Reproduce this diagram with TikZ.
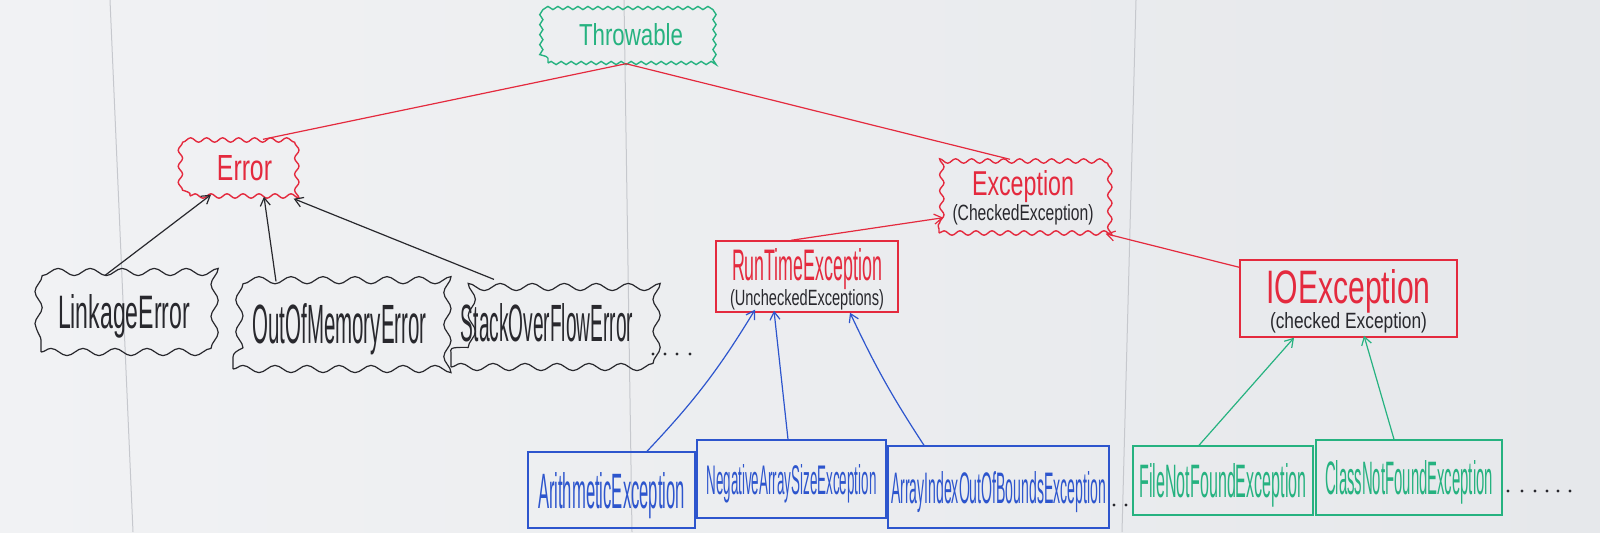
\documentclass[tikz,border=0pt]{standalone}
\usepackage{fontspec}
\setmainfont{Liberation Sans}
\usetikzlibrary{decorations.pathmorphing,arrows.meta,calc}
\definecolor{wbgL}{RGB}{241,242,244}
\definecolor{wbgR}{RGB}{230,232,235}
\definecolor{mgreen}{RGB}{38,178,128}
\definecolor{mred}{RGB}{228,42,62}
\definecolor{mblue}{RGB}{45,85,205}
\definecolor{mblack}{RGB}{40,40,45}
\definecolor{seam}{RGB}{198,200,205}
\newcommand{\hw}[3]{\raisebox{0pt}[#2pt][0pt]{\resizebox{#1pt}{#2pt}{#3}}}
\begin{document}
\begin{tikzpicture}[x=0.5pt,y=-0.5pt,
 box/.style={draw, line width=0.7pt, inner sep=0pt, align=center, font=\fontsize{5}{5}\selectfont},
 wavyA/.style={decorate, decoration={snake, segment length=5pt, amplitude=0.8pt}},
 wavyB/.style={decorate, decoration={snake, segment length=8pt, amplitude=1.1pt}},
 wavyC/.style={decorate, decoration={snake, segment length=16pt, amplitude=1.8pt}, line width=0.6pt},
 link/.style={line width=0.6pt},
 arr/.style={link, -{Straight Barb[length=4pt,width=5pt]}},
]
\useasboundingbox (0,0) rectangle (1600,532);
\shade[left color=wbgL, right color=wbgR] (0,0) rectangle (1600,532);
\draw[seam, line width=0.5pt] (110,0) -- (133,532);
\draw[seam, line width=0.5pt] (624,0) -- (632,532);
\draw[seam, line width=0.5pt] (1136,0) -- (1122,532);

% nodes
\node[box, wavyA, mgreen, minimum width=83pt, minimum height=28.5pt] (thr) at (631,34.5) {\hw{52}{11}{Throwable}};
\node[box, wavyB, mred, minimum width=54.5pt, minimum height=28pt] (err) at (244.5,168) {\hw{27.5}{12.5}{Error}};
\node[box, wavyB, mred, minimum width=84pt, minimum height=37.5pt] (exc) at (1023,195.5) {\hw{51}{12.5}{Exception}\\[3.5pt]\textcolor{mblack}{\hw{70.5}{8}{(CheckedException)}}};
\node[box, mred, minimum width=91pt, minimum height=35.5pt] (rte) at (807,276.5) {\hw{75}{16}{RunTimeException}\\[3.5pt]\textcolor{mblack}{\hw{77}{8}{(UncheckedExceptions)}}};
\node[box, mred, minimum width=108.5pt, minimum height=38.5pt] (ioe) at (1348.5,298.5) {\hw{82}{17}{IOException}\\[3.5pt]\textcolor{mblack}{\hw{78.5}{8}{(checked Exception)}}};

\node[box, wavyC, mblack, minimum width=83pt, minimum height=41pt] (lnk) at (124,311) {\hw{66}{17}{LinkageError}};
\node[box, wavyC, mblack, minimum width=106.5pt, minimum height=45.5pt] (oom) at (339.5,323.5) {\hw{87}{20}{OutOfMemoryError}};
\node[box, wavyC, mblack, minimum width=96pt, minimum height=44.5pt] (sof) at (547,322.5) {\hw{86}{19}{StackOverFlowError}};

\node[box, mblue, minimum width=83.5pt, minimum height=38pt] (ari) at (611.5,490) {\hw{73.5}{18}{ArithmeticException}};
\node[box, mblue, minimum width=94.5pt, minimum height=39pt] (neg) at (791.5,479) {\hw{85}{15}{NegativeArraySizeException}};
\node[box, mblue, minimum width=110.5pt, minimum height=41pt] (aio) at (998.5,487) {\hw{107.5}{16}{ArrayIndexOutOfBoundsException}};

\node[box, mgreen, minimum width=90pt, minimum height=34.5pt] (fnf) at (1223,480.5) {\hw{83.5}{17}{FileNotFoundException}};
\node[box, mgreen, minimum width=93pt, minimum height=37.5pt] (cnf) at (1409,477.5) {\hw{84}{17}{ClassNotFoundException}};

% connectors
\draw[link, mred] ($(thr.south)+(-5,0)$) -- ($(err.north)+(18.5,0)$);
\draw[link, mred] ($(thr.south)+(-5,0)$) -- ($(exc.north)+(-13,2)$);

\draw[arr, mblack] ($(lnk.north)+(-19,6)$) -- ($(err.south)+(-33.5,-2)$);
\draw[arr, mblack] ($(oom.north)+(-63.5,4)$) -- ($(err.south)+(19.5,0)$);
\draw[arr, mblack] ($(sof.north)+(-53,2)$) -- ($(err.south east)+(-6,2)$);

\draw[arr, mred] ($(rte.north)+(-16,0)$) -- ($(exc.south west)+(5,-16)$);
\draw[arr, mred] ($(ioe.north west)+(0,8)$) -- ($(exc.south east)+(-2,0)$);

\draw[arr, mblue] ($(ari.north)+(35.5,0)$) to[bend right=6] ($(rte.south)+(-52,-3)$);
\draw[arr, mblue] ($(neg.north)+(-3.5,0)$) -- ($(rte.south)+(-33,-2)$);
\draw[arr, mblue] ($(aio.north)+(-74.5,0)$) to[bend left=4] ($(rte.south)+(43,0)$);

\draw[arr, mgreen] ($(fnf.north)+(-24,0)$) -- ($(ioe.south)+(-54.5,0)$);
\draw[arr, mgreen] ($(cnf.north)+(-15,0)$) -- ($(ioe.south)+(15.5,-2)$);

% ellipsis dots
\foreach \x in {653,665,677,690} \fill[mblack] (\x,354) circle (0.8pt);
\foreach \x in {1114,1126} \fill[mblack] (\x,505) circle (0.8pt);
\foreach \x in {1508,1522,1535,1547,1558,1570} \fill[mblack] (\x,491) circle (0.8pt);
\end{tikzpicture}
\end{document}
